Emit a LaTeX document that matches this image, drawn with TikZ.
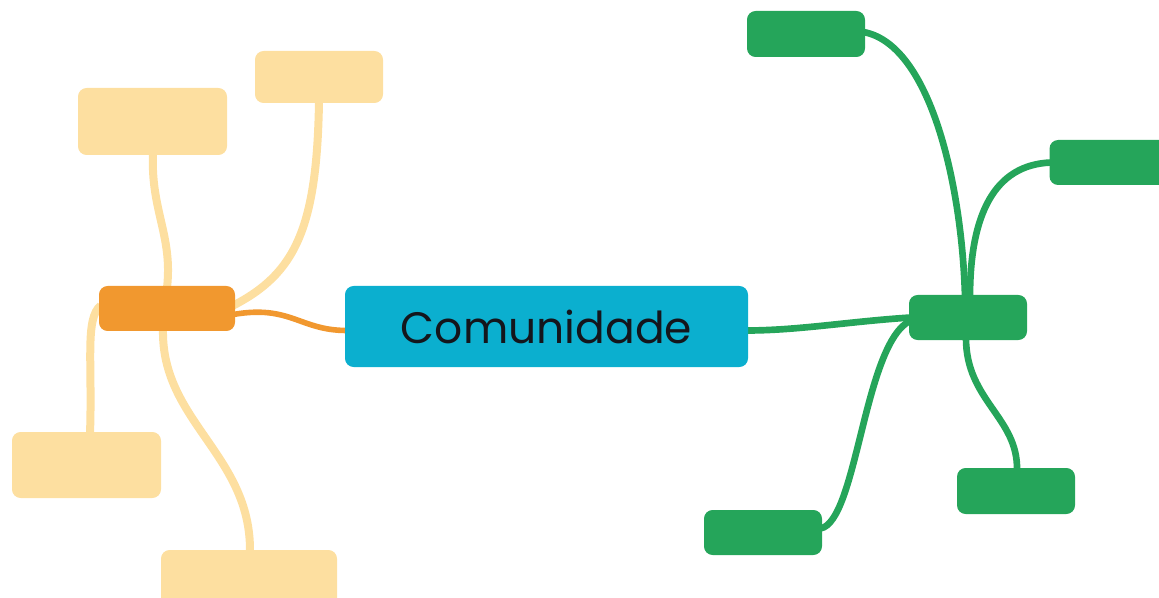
\documentclass[tikz,border=0pt]{standalone}
\usepackage{fontspec}
\setmainfont{Poppins}
\usetikzlibrary{calc,backgrounds}
\definecolor{pale}{HTML}{FDDFA0}
\definecolor{orng}{HTML}{F1982F}
\definecolor{cyanb}{HTML}{0BAFCF}
\definecolor{grn}{HTML}{25A55A}
\definecolor{txt}{HTML}{14161C}
\tikzset{
  box/.style={rounded corners=6.5pt, inner sep=0pt, draw=none},
  palebox/.style={box, fill=pale},
  grnbox/.style={box, fill=grn},
  palelink/.style={draw=pale, line width=6pt},
  grnlink/.style={draw=grn, line width=5pt},
  orglink/.style={draw=orng, line width=4.2pt},
}
\begin{document}
\begin{tikzpicture}[x=0.75pt,y=-0.75pt]
\useasboundingbox (0,0) rectangle (1159,598);
% left side
\node[palebox, minimum width=111.75pt, minimum height=50.25pt] (P1) at (152.5,121.5) {};
\node[palebox, minimum width=96pt, minimum height=39pt] (P2) at (319,77) {};
\node[box, fill=orng, minimum width=102pt, minimum height=33.75pt] (O) at (167,308.5) {};
\node[palebox, minimum width=111.75pt, minimum height=49.5pt] (P3) at (86.5,465) {};
\node[palebox, minimum width=132pt, minimum height=52.5pt] (P4) at (249,585) {};
% centre
\node[box, fill=cyanb, minimum width=302.25pt, minimum height=60.75pt, text=txt, font=\fontsize{33}{38}\selectfont] (B) at (546.5,326.5) {\raisebox{-1pt}{Comunidade}};
% right side
\node[grnbox, minimum width=88.5pt, minimum height=33.75pt] (G) at (968,317.5) {};
\node[grnbox, minimum width=88.5pt, minimum height=34.5pt] (GT) at (806,34) {};
\node[grnbox, minimum width=93.75pt, minimum height=33.75pt] (GR) at (1112,162.5) {};
\node[grnbox, minimum width=88.5pt, minimum height=34.5pt] (GBR) at (1016,491) {};
\node[grnbox, minimum width=88.5pt, minimum height=33.75pt] (GBL) at (763,532.5) {};
\begin{scope}[on background layer]
% pale links
\draw[palelink] ($(P1.south)+(0.5,-2)$) .. controls ($(P1.south)+(-2,55)$) and ($(O.north)+(6,-50)$) .. ($(O.north)+(0,2)$);
\draw[palelink] ($(P2.south)+(0,-2)$) .. controls ($(P2.south)+(-2,125)$) and ($(O.east)+(60,-35)$) .. ($(O.east)+(-2,-3)$);
\draw[palelink] ($(P3.north)+(3.5,2)$) .. controls ($(P3.north)+(6,-70)$) and ($(O.west)+(-14,10)$) .. ($(O.west)+(2,-3)$);
\draw[palelink] ($(O.south)+(-4,-2)$) .. controls ($(O.south)+(-6,90)$) and ($(P4.north)+(2,-95)$) .. ($(P4.north)+(1,2)$);
% orange link
\draw[orglink] ($(O.east)+(-2,6)$) .. controls ($(O.east)+(55,-4)$) and ($(B.west)+(-45,4)$) .. ($(B.west)+(2,4)$);
% green links
\draw[grnlink] ($(B.east)+(-2,4)$) .. controls ($(B.east)+(50,4)$) and ($(G.west)+(-60,4)$) .. ($(G.west)+(2,0)$);
\draw[grnlink] ($(GT.east)+(-2,-2)$) .. controls ($(GT.east)+(65,10)$) and ($(G.north)+(-6,-110)$) .. ($(G.north)+(-3,2)$);
\draw[grnlink] ($(GR.west)+(2,0)$) .. controls ($(GR.west)+(-55,2)$) and ($(G.north)+(2,-80)$) .. ($(G.north)+(2,2)$);
\draw[grnlink] ($(G.south)+(-2,-2)$) .. controls ($(G.south)+(-2,60)$) and ($(GBR.north)+(2,-50)$) .. ($(GBR.north)+(1,2)$);
\draw[grnlink] ($(G.west)+(2,3)$) .. controls ($(G.west)+(-45,25)$) and ($(GBL.east)+(35,-10)$) .. ($(GBL.east)+(-2,-4)$);
\end{scope}
\end{tikzpicture}
\end{document}
